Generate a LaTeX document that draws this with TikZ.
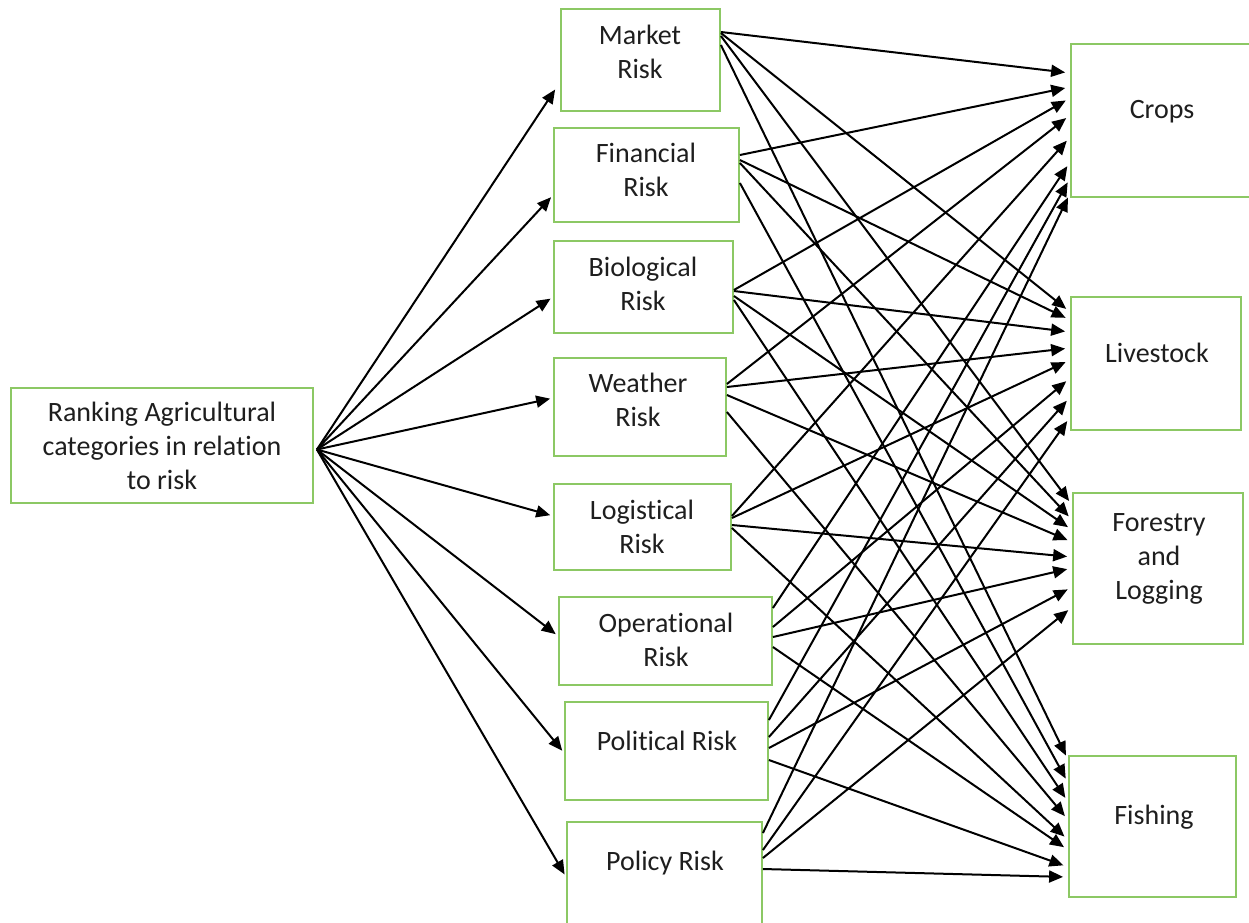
\documentclass[tikz,border=0pt]{standalone}
\usepackage{fontspec}
\setmainfont{Carlito}[RawFeature=-liga]
\usetikzlibrary{arrows.meta,calc}
\definecolor{boxgreen}{RGB}{140,200,100}
\definecolor{txtgray}{RGB}{30,30,30}
\begin{document}
\begin{tikzpicture}[x=1pt,y=-1pt,
  box/.style={draw=boxgreen,line width=1.8pt,inner sep=0pt,fill=none},
  lbl/.style={align=center,text=txtgray,font=\fontsize{28}{34}\selectfont,inner sep=0pt},
  conn/.style={line width=2pt,draw=black,-{Triangle[length=14pt,width=12pt]},shorten >=5pt},
  feed/.style={line width=2pt,draw=black,-{Triangle[length=14pt,width=12pt]}}]
\useasboundingbox (0,0) rectangle (1249,922);
\clip (0,0) rectangle (1249,922);
% boxes
\node[box,minimum width=302pt,minimum height=115pt] (rank) at (162,445.5) {};
\node[box,minimum width=159pt,minimum height=102pt] (market) at (640.5,60) {};
\node[box,minimum width=185pt,minimum height=94pt] (financial) at (646.5,175) {};
\node[box,minimum width=179pt,minimum height=92pt] (biological) at (643.5,287) {};
\node[box,minimum width=172pt,minimum height=98pt] (weather) at (640,407) {};
\node[box,minimum width=177pt,minimum height=86pt] (logistical) at (642.5,527) {};
\node[box,minimum width=213pt,minimum height=88pt] (operational) at (665.5,641) {};
\node[box,minimum width=203pt,minimum height=98pt] (political) at (666.5,751) {};
\node[box,minimum width=195pt,minimum height=118pt] (policy) at (664.5,881) {};
\node[box,minimum width=189pt,minimum height=153pt] (crops) at (1165.5,120.5) {};
\node[box,minimum width=170pt,minimum height=133pt] (livestock) at (1156,363.5) {};
\node[box,minimum width=170pt,minimum height=151pt] (forestry) at (1158,568.5) {};
\node[box,minimum width=167pt,minimum height=141pt] (fishing) at (1152.5,826.5) {};
% labels
\node[lbl] (trank) at (162,446) {Ranking Agricultural\\categories in relation\\to risk};
\node[lbl] (tmarket) at (640,52) {Market\\Risk};
\node[lbl] (tfinancial) at (646,170) {Financial\\Risk};
\node[lbl] (tbiological) at (643,284) {Biological\\Risk};
\node[lbl] (tweather) at (638,400) {Weather\\Risk};
\node[lbl] (tlogistical) at (642,527) {Logistical\\Risk};
\node[lbl] (toperational) at (666,640) {Operational\\Risk};
\node[lbl] (tpolitical) at (667,741) {Political Risk};
\node[lbl] (tpolicy) at (665,863) {Policy Risk};
\node[lbl] (tcrops) at (1162,112) {Crops};
\node[lbl] (tlivestock) at (1157,353) {Livestock};
\node[lbl] (tforestry) at (1159,559) {Forestry\\and\\Logging};
\node[lbl] (tfishing) at (1154,817) {Fishing};
% feeds from ranking box
\coordinate (r0) at ($(rank.east)+(3,4)$);
\draw[feed,shorten >=9pt] (r0) -- (market.west|-0,82);
\foreach \t/\ty in {financial/195,biological/297,weather/398,logistical/516,operational/636,political/753,policy/877}
  \draw[feed,shorten >=3pt] (r0) -- (\t.west|-0,\ty);
% connectors
\foreach \s/\sy/\t/\ty in {
  market/32/crops/73, market/33/livestock/312, market/36/forestry/505, market/45/fishing/760,
  financial/155/crops/87, financial/160/livestock/320, financial/163/forestry/520, financial/183/fishing/783,
  biological/290/crops/98, biological/291/livestock/332, biological/296/forestry/530, biological/300/fishing/802,
  weather/384/crops/115, weather/387/livestock/348, weather/395/forestry/542, weather/412/fishing/820,
  logistical/516/crops/137, logistical/518/livestock/360, logistical/525/forestry/557, logistical/528/fishing/840,
  operational/608/crops/162, operational/627/livestock/378, operational/637/forestry/568, operational/647/fishing/850,
  political/720/crops/178, political/737/livestock/397, political/748/forestry/587, political/760/fishing/867,
  policy/833/crops/193, policy/850/livestock/417, policy/858/forestry/607, policy/869/fishing/877}
  \draw[conn] (\s.east|-0,\sy) -- (\t.west|-0,\ty);
\end{tikzpicture}
\end{document}
